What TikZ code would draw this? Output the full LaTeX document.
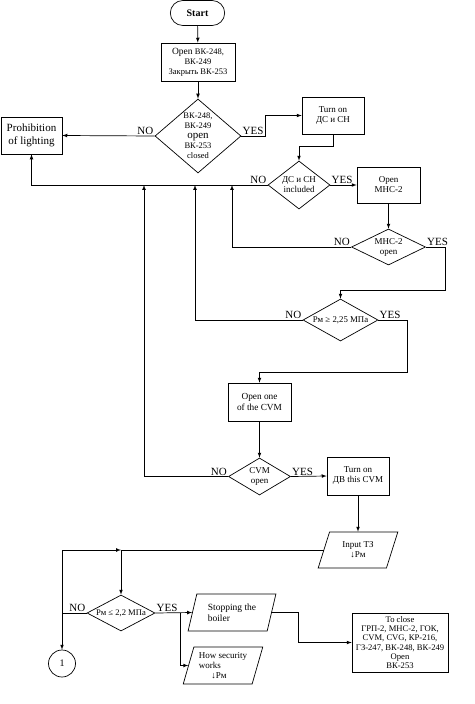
\documentclass[tikz,border=0pt]{standalone}
\usepackage{fontspec}
\setmainfont{Liberation Serif}
\usetikzlibrary{shapes.geometric,shapes.misc}

\begin{document}
\begin{tikzpicture}[x=1pt, y=-1pt, >=latex, line width=0.7pt,
      every node/.append style={font=\fontsize{9}{10}\selectfont, align=center},
      box/.style={draw=black, rectangle, inner sep=1pt},
      cond/.style={draw=black, diamond, inner sep=0pt},
      io/.style={draw=black, trapezium, trapezium left angle=70, trapezium right angle=110,
        trapezium stretches=true, inner sep=1pt},
      yn/.style={font=\fontsize{11}{12}\selectfont, inner sep=1pt}]
    \useasboundingbox (0,0) rectangle (474,704);
    \node (start) [draw=black, rounded rectangle, minimum width=61pt, minimum height=25pt,
      font=\bfseries\fontsize{10}{12}\selectfont] at (197.5,13) {Start};
    \node (openVK) [box, minimum width=74pt, minimum height=38pt,
      font=\fontsize{8.5}{10}\selectfont] at (198,62)
      {{\fontsize{9.5}{10}\selectfont Open} ВК-248,\\ВК-249\\Закрыть ВК-253};
    \node (chk) [cond, aspect=1.16, minimum width=86pt, minimum height=74pt,
      font=\fontsize{8.5}{10}\selectfont] at (198,136)
      {ВК-248,\\ВК-249\\{\fontsize{11}{10}\selectfont open}\\ВК-253\\closed};
    \node (prohib) [box, minimum width=61pt, minimum height=37pt,
      font=\fontsize{11}{12.5}\selectfont] at (31.5,135.5) {Prohibition\\of lighting};
    \node (turnDC) [box, minimum width=62pt, minimum height=37pt] at (333,115.5) {Turn on\\ДС и СН};
    \node (dcOn) [cond, aspect=1.3, minimum width=62pt, minimum height=48pt] at (299,185)
      {ДС и СН\\included};
    \node (openMHC) [box, minimum width=63pt, minimum height=36pt] at (388.5,185) {Open\\МНС-2};
    \node (mhcOpen) [cond, aspect=2, minimum width=74pt, minimum height=36pt] at (388.5,247)
      {МНС-2\\open};
    \node (pres) [cond, aspect=1.8, minimum width=75pt, minimum height=42pt,
      font=\fontsize{8.8}{9}\selectfont] at (340.5,320) {Рм ≥ 2,25 МПа};
    \node (openCVM) [box, minimum width=63pt, minimum height=38pt,
      font=\fontsize{9.3}{10.5}\selectfont] at (259.5,402) {Open one\\of the CVM};
    \node (cvmOpen) [cond, aspect=1.6, minimum width=62pt, minimum height=37pt] at (259.5,476.5)
      {CVM\\open};
    \node (turnDB) [box, minimum width=62pt, minimum height=38pt] at (358,476)
      {Turn on\\ДВ this CVM};
    \node (input) [io, minimum width=80pt, minimum height=36pt] at (358,550) {Input ТЗ\\↓Рм};
    \node (presLow) [cond, aspect=1.9, minimum width=68pt, minimum height=36pt,
      font=\fontsize{8.6}{9}\selectfont] at (121,613) {Рм ≤ 2,2 МПа};
    \node (stop) [io, trapezium left angle=72, trapezium right angle=108, minimum width=88pt,
      minimum height=37pt, align=left, font=\fontsize{9.5}{10.5}\selectfont] at (232,612.5)
      {Stopping the\\boiler};
    \node (guard) [io, trapezium left angle=72, trapezium right angle=108, minimum width=80pt,
      minimum height=37pt, align=left] at (223,665.5) {How security\\works\\\hspace{1.4em}↓Рм};
    \node (close) [box, minimum width=96pt, minimum height=59pt, inner sep=0pt,
      font=\fontsize{8.6}{9.3}\selectfont] at (400,642.5)
      {To close\\ГРП-2, МНС-2, ГОК,\\CVM, CVG, КР-216,\\ГЗ-247, ВК-248, ВК-249\\Open\\ВК-253};
    \node (conn) [draw=black, circle, minimum size=27pt, inner sep=0pt,
      font=\fontsize{10}{12}\selectfont] at (62,663.5) {1};

    \coordinate (j1) at (232,185);
    \coordinate (j2) at (195,185);
    \coordinate (j3) at (144,185);
    \coordinate (split) at (121,550);
    \coordinate (back) at (62,613);
    \coordinate (fork) at (180,613);

    \draw[->] (start) -- (openVK);
    \draw[->] (openVK) -- (chk);
    \draw[->] (chk.west) node[yn, above left] {NO} -- (prohib.east);
    \draw[->] (chk.east) node[yn, above right] {YES} -- ++(24,0) |- (turnDC.west);
    \draw[->] (turnDC.south) -- ++(0,12) -| (dcOn.north);
    \draw[->] (dcOn.east) node[yn, above right] {YES} -- (openMHC.west);
    \draw[->] (dcOn.west) node[yn, above left] {NO} -| (prohib.south);
    \draw[->] (openMHC) -- (mhcOpen);
    \draw[->] (mhcOpen.west) node[yn, above left] {NO} -| (j1);
    \draw[->] (mhcOpen.east) node[yn, above right] {YES} -| ++(19,43) -| (pres.north);
    \draw[->] (pres.west) node[yn, above left] {NO} -| (j2);
    \draw[->] (pres.east) node[yn, above right] {YES} -| ++(29,52) -| (openCVM.north);
    \draw[->] (openCVM) -- (cvmOpen);
    \draw[->] (cvmOpen.west) node[yn, above left] {NO} -| (j3);
    \draw[->] (cvmOpen.east) node[yn, above right] {YES} -- (turnDB.west);
    \draw[->] (turnDB) -- (input);
    \draw[->] (input.west) -| (presLow.north);
    \draw[->] (back) |- (split);
    \draw (presLow.west) node[yn, above left] {NO} -- (back);
    \draw[->] (back) -- (conn);
    \draw[->] (presLow.east) node[yn, above right] {YES} -- (stop.west);
    \draw[->] (fork) |- (guard.west);
    \draw[->] (stop.east) -- ++(26,0) |- (close.west);
\end{tikzpicture}
\end{document}
